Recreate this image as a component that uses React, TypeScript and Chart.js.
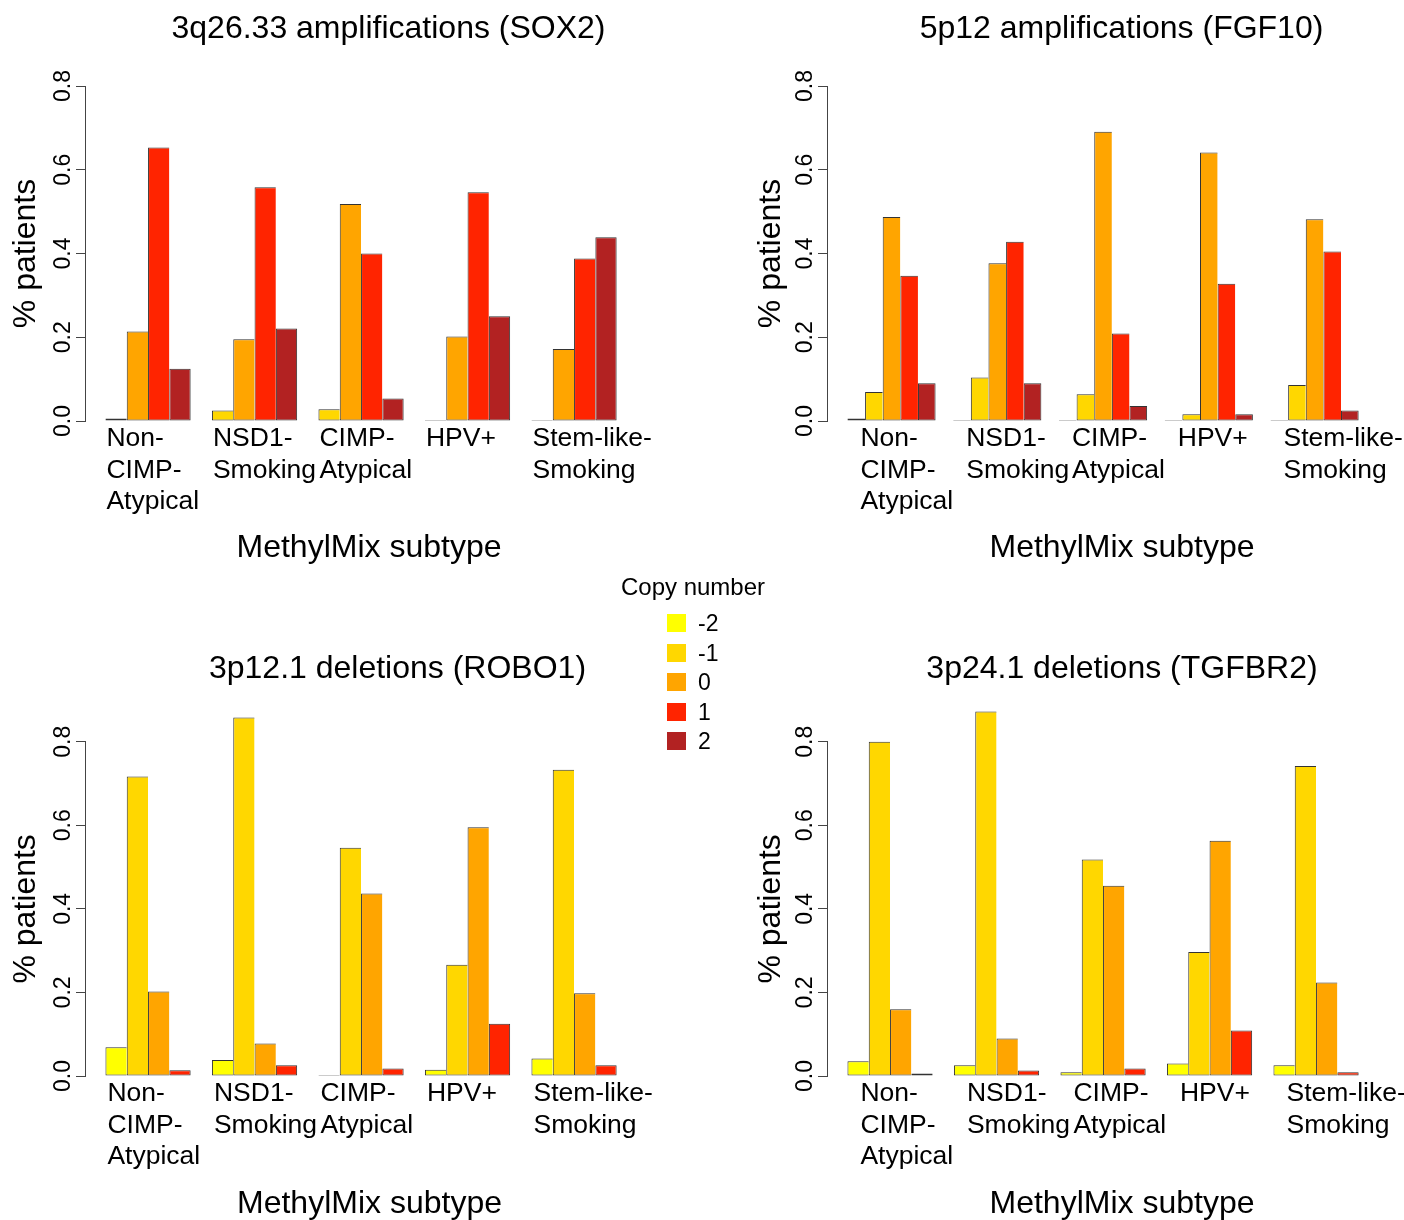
import React, { useEffect, useRef } from "react";
import { Chart, registerables } from "chart.js";

Chart.register(...registerables);

const FONT = '"Liberation Sans", Arial, Helvetica, sans-serif';

// ---------- data ----------
const categoryLines: string[][] = [
  ["Non-", "CIMP-", "Atypical"],
  ["NSD1-", "Smoking"],
  ["CIMP-", "Atypical"],
  ["HPV+"],
  ["Stem-like-", "Smoking"],
];
const copyNumbers = ["-2", "-1", "0", "1", "2"];
const copyColors = ["#FFFF00", "#FFD700", "#FFA500", "#FF2400", "#B22222"];
const yTickValues = [0, 0.2, 0.4, 0.6, 0.8];

// 3q26.33 amplifications (SOX2): copy number -1, 0, 1, 2
const sox2Minus1 = [0.006, 0.025, 0.028, 0, 0];
const sox2Zero = [0.214, 0.195, 0.518, 0.202, 0.172];
const sox2One = [0.653, 0.558, 0.4, 0.546, 0.388];
const sox2Two = [0.125, 0.221, 0.054, 0.25, 0.439];

// 5p12 amplifications (FGF10): copy number -2, -1, 0, 1, 2
const fgf10Minus2 = [0.006, 0, 0, 0, 0];
const fgf10Minus1 = [0.069, 0.104, 0.064, 0.016, 0.086];
const fgf10Zero = [0.487, 0.377, 0.691, 0.641, 0.482];
const fgf10One = [0.347, 0.428, 0.209, 0.328, 0.405];
const fgf10Two = [0.09, 0.09, 0.036, 0.016, 0.025];

// 3p12.1 deletions (ROBO1): copy number -2, -1, 0, 1
const robo1Minus2 = [0.069, 0.038, 0, 0.015, 0.042];
const robo1Minus1 = [0.717, 0.858, 0.546, 0.266, 0.733];
const robo1Zero = [0.202, 0.078, 0.437, 0.595, 0.198];
const robo1One = [0.014, 0.026, 0.018, 0.125, 0.026];

// 3p24.1 deletions (TGFBR2): copy number -2, -1, 0, 1
const tgfbr2Minus2 = [0.035, 0.026, 0.009, 0.03, 0.026];
const tgfbr2Minus1 = [0.8, 0.872, 0.518, 0.297, 0.742];
const tgfbr2Zero = [0.16, 0.09, 0.455, 0.563, 0.224];
const tgfbr2One = [0.006, 0.013, 0.018, 0.109, 0.009];

// ---------- layout ----------
const R_PLOT_WIDTH = 552.1; // width of the plotting region of each panel

type PanelCfg = {
  title: string;
  series: string[];
  values: number[][];
  left: number;
  top: number;
  width: number;
  height: number;
  yAxisWidth: number;
  chartRight: number;
  titlePadTop: number;
  titlePadBottom: number;
  xAxisHeight: number;
  xlabPadBottom: number;
  labelOffset: number;
};

const panels: PanelCfg[] = [
  {
    title: "3q26.33 amplifications (SOX2)",
    series: ["-1", "0", "1", "2"],
    values: [sox2Minus1, sox2Zero, sox2One, sox2Two],
    left: 0, top: 0, width: 777, height: 610,
    yAxisWidth: 85, chartRight: 653,
    titlePadTop: 10.3, titlePadBottom: 37.3,
    xAxisHeight: 189, xlabPadBottom: 43, labelOffset: 1,
  },
  {
    title: "5p12 amplifications (FGF10)",
    series: ["-2", "-1", "0", "1", "2"],
    values: [fgf10Minus2, fgf10Minus1, fgf10Zero, fgf10One, fgf10Two],
    left: 745, top: 0, width: 753, height: 610,
    yAxisWidth: 82, chartRight: 1417,
    titlePadTop: 10.3, titlePadBottom: 37.3,
    xAxisHeight: 189, xlabPadBottom: 43, labelOffset: 13,
  },
  {
    title: "3p12.1 deletions (ROBO1)",
    series: ["-2", "-1", "0", "1"],
    values: [robo1Minus2, robo1Minus1, robo1Zero, robo1One],
    left: 0, top: 610, width: 795, height: 620,
    yAxisWidth: 85, chartRight: 654,
    titlePadTop: 39.8, titlePadBottom: 53.5,
    xAxisHeight: 154, xlabPadBottom: 7, labelOffset: 2,
  },
  {
    title: "3p24.1 deletions (TGFBR2)",
    series: ["-2", "-1", "0", "1"],
    values: [tgfbr2Minus2, tgfbr2Minus1, tgfbr2Zero, tgfbr2One],
    left: 745, top: 610, width: 754, height: 620,
    yAxisWidth: 82, chartRight: 1417,
    titlePadTop: 39.8, titlePadBottom: 53.5,
    xAxisHeight: 154, xlabPadBottom: 7, labelOffset: 13,
  },
];

function Panel({ cfg }: { cfg: PanelCfg }) {
  const ref = useRef<HTMLCanvasElement | null>(null);

  useEffect(() => {
    if (!ref.current) return;
    const n = cfg.series.length;
    const pitch = n + 1;
    const range = categoryLines.length * pitch - 1;
    const pxPerUnit = R_PLOT_WIDTH / (range * 1.08);
    const xMin = 1 - 0.04 * range;
    const chartLeft = cfg.left + cfg.yAxisWidth;
    const xMax = xMin + (cfg.chartRight - chartLeft) / pxPerUnit;
    const centers = categoryLines.map((_, g) => g * pitch + 1 + n / 2);
    const starts = categoryLines.map((_, g) => g * pitch + 1);

    const datasets = cfg.series.map((label, s) => ({
      label,
      data: cfg.values[s].map((v, g) => ({ x: centers[g], y: v })),
      backgroundColor: copyColors[copyNumbers.indexOf(label)],
      borderColor: "#333333",
      borderWidth: { left: 1, top: 1, bottom: 1, right: s === n - 1 ? 1 : 0 },
      borderSkipped: false as const,
      minBarLength: 1,
      barPercentage: 1,
      categoryPercentage: n / pitch,
      clip: false as const,
    }));

    const chart = new Chart(ref.current, {
      type: "bar",
      data: { datasets: datasets as any },
      options: {
        responsive: false,
        maintainAspectRatio: false,
        animation: false,
        devicePixelRatio: 1,
        layout: { padding: 0 },
        events: [],
        plugins: {
          legend: { display: false },
          tooltip: { enabled: false },
          title: {
            display: true,
            text: cfg.title,
            color: "#000",
            align: "center",
            fullSize: true,
            font: { size: 32, weight: "normal", family: FONT, lineHeight: 1.2 },
            padding: { top: cfg.titlePadTop, bottom: cfg.titlePadBottom },
          },
        },
        scales: {
          x: {
            type: "linear",
            position: "bottom",
            min: xMin,
            max: xMax,
            bounds: "data",
            offset: false,
            grid: { display: false, drawTicks: false, offset: false },
            border: { display: false },
            afterBuildTicks: (s: any) => {
              s.ticks = starts.map((v) => ({ value: v }));
            },
            afterFit: (s: any) => {
              s.height = cfg.xAxisHeight;
            },
            ticks: {
              autoSkip: false,
              maxRotation: 0,
              minRotation: 0,
              align: "start",
              labelOffset: cfg.labelOffset,
              padding: 1.5,
              color: "#000",
              font: { size: 26.5, family: FONT, lineHeight: 1.2 },
              callback: (_v: any, i: number) => categoryLines[i],
            },
            title: {
              display: true,
              text: "MethylMix subtype",
              color: "#000",
              font: { size: 32, family: FONT, lineHeight: 1.2 },
              padding: { top: 0, bottom: cfg.xlabPadBottom },
            },
          },
          y: {
            type: "linear",
            position: "left",
            min: 0,
            max: 0.8,
            afterBuildTicks: (s: any) => {
              s.ticks = yTickValues.map((v) => ({ value: v }));
            },
            afterFit: (s: any) => {
              s.width = cfg.yAxisWidth;
            },
            grid: {
              display: true,
              drawOnChartArea: false,
              drawTicks: true,
              tickLength: 9,
              color: "#444",
              lineWidth: 1,
            },
            border: { display: true, color: "#444", width: 1 },
            ticks: {
              minRotation: 90,
              maxRotation: 90,
              crossAlign: "center",
              padding: -3.5,
              color: "#000",
              font: { size: 23, family: FONT, lineHeight: 1.2 },
              callback: (v: any) => Number(v).toFixed(1),
            },
            title: {
              display: true,
              text: "% patients",
              color: "#000",
              font: { size: 32, family: FONT, lineHeight: 1.2 },
              padding: { top: 6.8, bottom: 0 },
            },
          },
          pad: {
            type: "linear",
            position: "right",
            display: true,
            grid: { display: false, drawTicks: false },
            border: { display: false },
            ticks: { display: false },
            afterFit: (s: any) => {
              s.width = cfg.left + cfg.width - cfg.chartRight;
            },
          },
        } as any,
      },
    });
    return () => chart.destroy();
  }, [cfg]);

  return (
    <canvas
      ref={ref}
      width={cfg.width}
      height={cfg.height}
      style={{
        position: "absolute",
        left: cfg.left,
        top: cfg.top,
        width: cfg.width,
        height: cfg.height,
      }}
    />
  );
}

function Legend() {
  const rowStart = 623;
  const rowPitch = 29.5;
  return (
    <div style={{ position: "absolute", left: 0, top: 0, fontFamily: FONT, color: "#000" }}>
      <div
        style={{
          position: "absolute",
          left: 593,
          top: 572.5,
          width: 200,
          textAlign: "center",
          fontSize: 24,
          lineHeight: "28px",
          whiteSpace: "nowrap",
        }}
      >
        Copy number
      </div>
      {copyNumbers.map((cn, i) => {
        const cy = rowStart + i * rowPitch;
        return (
          <React.Fragment key={cn}>
            <div
              style={{
                position: "absolute",
                left: 667,
                top: cy - 9,
                width: 19,
                height: 18,
                background: copyColors[i],
              }}
            />
            <div
              style={{
                position: "absolute",
                left: 698,
                top: cy - 13.7,
                fontSize: 23,
                lineHeight: "28px",
                whiteSpace: "nowrap",
              }}
            >
              {cn}
            </div>
          </React.Fragment>
        );
      })}
    </div>
  );
}

export default function App() {
  return (
    <div
      style={{
        position: "absolute",
        left: 0,
        top: 0,
        width: 1404,
        height: 1220,
        overflow: "hidden",
        background: "#fff",
      }}
    >
      {panels.map((p) => (
        <Panel key={p.title} cfg={p} />
      ))}
      <Legend />
    </div>
  );
}
